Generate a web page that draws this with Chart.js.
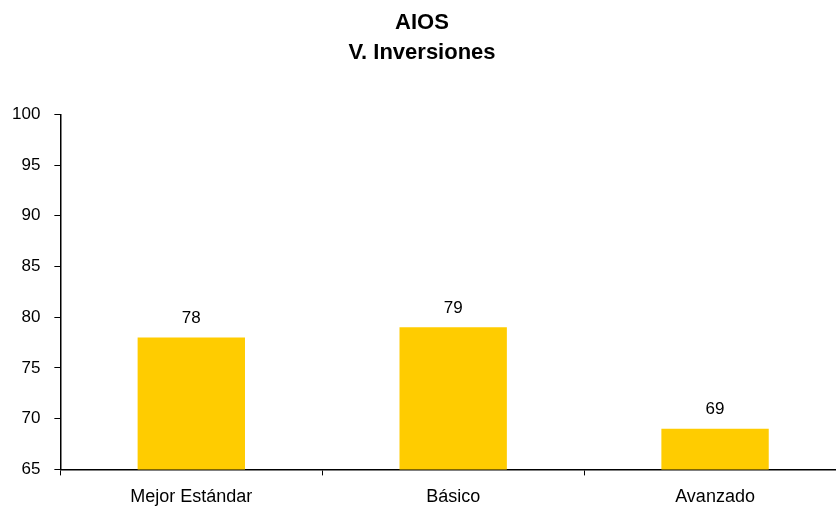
<!DOCTYPE html>
<html>
<head>
<meta charset="utf-8">
<script src="https://cdn.jsdelivr.net/npm/chart.js@4"></script>
<style>
  body { margin: 0; background: #fff; }
  #wrap { width: 836px; height: 506px; overflow: hidden; }
  #box { width: 900px; height: 506px; }
</style>
</head>
<body>
<div id="wrap"><div id="box"><canvas id="chart"></canvas></div></div>
<script>
const categories = ["Mejor Estándar", "Básico", "Avanzado"];
const values = [78, 79, 69];
const yTicks = [65, 70, 75, 80, 85, 90, 95, 100];

// labels over the bars
const barLabels = {
    id: 'barLabels',
    afterDatasetsDraw(chart) {
        let ctx = chart.ctx;
        ctx.save();
        ctx.font = '17px "Liberation Sans", Arial, sans-serif';
        ctx.fillStyle = '#000';
        ctx.textAlign = 'center';
        ctx.textBaseline = 'bottom';
        chart.getDatasetMeta(0).data.forEach(function (bar, i) {
            ctx.fillText(values[i], bar.x, bar.y - 11);
        });
        ctx.restore();
    }
};

new Chart(document.getElementById("chart"), {
    type: 'bar',
    data: {
        labels: categories,
        datasets: [{
            data: values,
            backgroundColor: '#FFCC00',
            borderWidth: 0,
            categoryPercentage: 1,
            barPercentage: 0.41
        }]
    },
    options: {
        responsive: true,
        maintainAspectRatio: false,
        animation: false,
        layout: { padding: { left: -2, right: 54, top: 8, bottom: -13 } },
        plugins: {
            legend: { display: false },
            tooltip: { enabled: false },
            title: {
                display: true,
                text: ['AIOS', 'V. Inversiones'],
                color: '#000',
                font: { family: '"Liberation Sans", Arial, sans-serif', size: 22, weight: 'bold', lineHeight: 1.37 },
                padding: { top: 0, bottom: 46 }
            }
        },
        scales: {
            x: {
                offset: true,
                grid: { display: true, offset: true, drawOnChartArea: false, color: '#000', tickLength: 6 },
                border: { display: true, color: '#000', width: 1.5 },
                ticks: {
                    color: '#000',
                    padding: 11,
                    maxRotation: 0,
                    font: { family: '"Liberation Sans", Arial, sans-serif', size: 18 }
                }
            },
            y: {
                min: 65,
                max: 100,
                afterBuildTicks: function (axis) {
                    axis.ticks = yTicks.map(function (v) { return { value: v }; });
                },
                grid: { display: true, drawOnChartArea: false, color: '#000', tickLength: 6 },
                border: { display: true, color: '#000', width: 1.5 },
                ticks: {
                    color: '#000',
                    padding: 14,
                    font: { family: '"Liberation Sans", Arial, sans-serif', size: 17 }
                }
            }
        }
    },
    plugins: [barLabels]
});
</script>
</body>
</html>
